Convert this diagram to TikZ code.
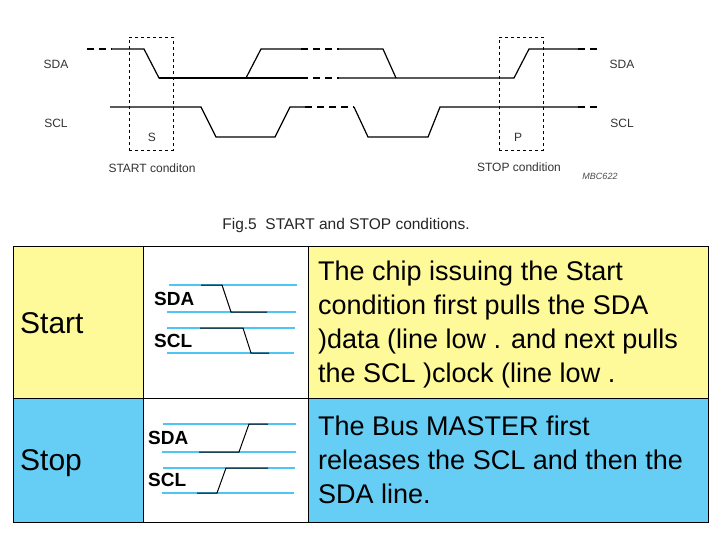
\documentclass[tikz,border=0pt]{standalone}
\usepackage{fontspec}
\setmainfont{Liberation Sans}
\begin{document}
\begin{tikzpicture}[x=1pt,y=-1pt,
  wave/.style={line width=1.2pt},
  dwave/.style={line width=1.2pt,dash pattern=on 7pt off 5pt},
  box/.style={dashed,line width=0.5pt},
  lbl/.style={font=\fontsize{12}{13}\selectfont,text=black!80},
  cy/.style={draw=cyan!70!white,line width=1.5pt},
  bk/.style={line width=1pt},
  wl/.style={font=\fontsize{19}{20}\selectfont\bfseries,anchor=west,inner sep=0pt},
  big/.style={font=\fontsize{30}{34}\selectfont,anchor=west,inner sep=0pt},
  para/.style={font=\fontsize{27}{34}\selectfont,anchor=north west,align=left,inner sep=0pt}]
\useasboundingbox (0,0) rectangle (720,540);
\fill[white] (0,0) rectangle (720,540);
% timing diagram
\coordinate (a0) at (87,49);
\coordinate (a1) at (112,49);
\draw[dwave] (a0) -- (a1);
\draw[wave] (a1) -- (144,49) -- (159,78) -- (246,78) -- (261,49) -- (301,49);
\draw[dwave] (301,49) -- (339,49);
\draw[wave] (339,49) -- (383,49) -- (396,78);
\draw[wave] (159,78) -- (301,78);
\draw[dwave] (301,78) -- (339,78);
\draw[wave] (339,78) -- (514,78) -- (529,49) -- (578,49);
\draw[dwave] (578,49) -- (599,49);
\draw[wave] (110,107) -- (201,107) -- (216,137) -- (275,137) -- (290,107) -- (305,107);
\draw[dwave] (305,107) -- (354,107);
\draw[wave] (354,107) -- (368,137) -- (428,137) -- (440,107) -- (578,107);
\draw[dwave] (578,107) -- (599,107);
\node[draw,box,minimum width=44pt,minimum height=113pt,inner sep=0pt] (bs) at (151,93.5) {};
\node[draw,box,minimum width=44pt,minimum height=113pt,inner sep=0pt] (bp) at (521,93.5) {};
\node[lbl] (sdal) at (56,64) {SDA};
\node[lbl] (scll) at (56,123) {SCL};
\node[lbl] (sdar) at (622,64) {SDA};
\node[lbl] (sclr) at (622,123) {SCL};
\node[lbl] (s) at (152,137) {S};
\node[lbl] (p) at (518,137) {P};
\node[lbl] (st) at (152,168) {START conditon};
\node[lbl] (sp) at (519,167) {STOP condition};
\node[font=\fontsize{9}{10}\selectfont\itshape,text=black!70] (m) at (600,176) {MBC622};
\node[font=\fontsize{15.5}{17}\selectfont,text=black!85] (cap) at (346,225) {Fig.5\ \ START and STOP conditions.};
% table
\fill[yellow!40!white] (13,246) rectangle (708,398);
\fill[cyan!60!white] (13,398) rectangle (708,522);
\fill[white] (143,246) rectangle (308,522);
\draw[line width=0.8pt] (13,246) rectangle (708,522);
\draw[line width=0.8pt] (13,398) -- (708,398) (143,246) -- (143,522) (308,246) -- (308,522);
\node[big] (start) at (20,323) {Start};
\node[big] (stop) at (20,463) {Stop};
\node[para] (t1) at (318,261) {The chip issuing the Start\\condition first pulls the SDA\\)data (line low . and next pulls\\the SCL )clock (line low .};
\node[para] (t2) at (318,416) {The Bus MASTER first\\releases the SCL and then the\\SDA line.};
% start waves
\draw[cy] (169,285) -- (297,285) (167,312) -- (296,312) (167,328) -- (295,328) (167,353) -- (294,353);
\draw[bk] (201,285) -- (222,285) -- (231,312) -- (267,312);
\draw[bk] (200,328) -- (243,328) -- (251,353) -- (269,353);
\node[wl] (w1) at (154,299) {SDA};
\node[wl] (w2) at (154,341) {SCL};
% stop waves
\draw[cy] (163,424) -- (296,424) (162,452) -- (296,452) (163,468) -- (295,468) (162,493) -- (294,493);
\draw[bk] (199,452) -- (239,452) -- (249,424) -- (268,424);
\draw[bk] (197,493) -- (217,493) -- (226,468) -- (268,468);
\node[wl] (w3) at (148,438) {SDA};
\node[wl] (w4) at (148,480) {SCL};
\end{tikzpicture}
\end{document}
